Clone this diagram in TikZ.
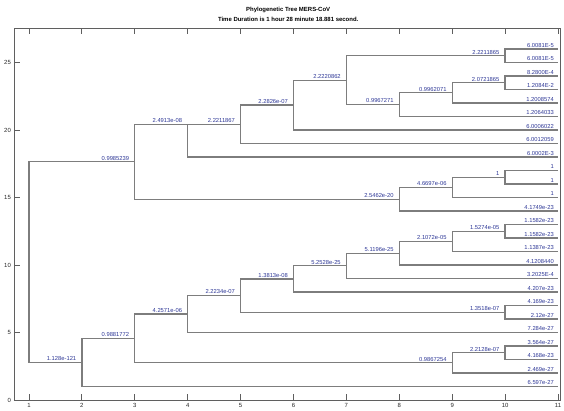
\documentclass[tikz,border=0pt]{standalone}
\usepackage{fontspec}
\setmainfont{Liberation Sans}

\definecolor{branchgray}{RGB}{125,125,125}
\definecolor{axisgray}{RGB}{95,95,95}
\definecolor{labelblue}{RGB}{45,55,150}

\tikzset{
  branch/.style={draw=branchgray, line width=0.7pt},
  blab/.style={font=\fontsize{3.3}{3.8}\selectfont, text=labelblue, anchor=south east, inner sep=0.6pt, xshift=-0.08cm},
  leaflab/.style={font=\fontsize{3.3}{3.8}\selectfont, text=labelblue, anchor=south east, inner sep=0.6pt, xshift=-0.05cm},
  ticklab/.style={font=\fontsize{3.4}{4}\selectfont, text=black!85, inner sep=0.8pt},
  titlelab/.style={font=\bfseries\fontsize{3.4}{4}\selectfont, inner sep=0pt},
}

\begin{document}
\begin{tikzpicture}[x=1.058cm, y=0.27cm]
\useasboundingbox (0.452,-0.741) rectangle (11.114,29.63);

% title
\node[titlelab] (title1) at (5.9,28.89) {Phylogenetic Tree MERS-CoV};
\node[titlelab] (title2) at (5.9,28.22) {Time Duration is 1 hour 28 minute 18.881 second.};

% axes box and ticks
\draw[axisgray, line width=0.5pt] (0.7164,0) rectangle (11.04,27.55);
\foreach \t in {1,...,11} {
  \draw[axisgray, line width=0.5pt] (\t,0) -- ++(0,0.44);
  \draw[axisgray, line width=0.5pt] (\t,27.55) -- ++(0,-0.44);
  \node[ticklab, anchor=north] (xt\t) at (\t,-0.15) {\t};
}
\foreach \t in {0,5,...,25} {
  \draw[axisgray, line width=0.5pt] (0.7164,\t) -- ++(0.113,0);
  \node[ticklab, anchor=east] (yt\t) at (0.69,\t) {\t};
}

% leaf tips
\foreach \i in {1,...,26} {
  \coordinate (l\i) at (11,\i);
}

% internal nodes
\coordinate (root) at (1,10.2139);
\coordinate (A) at (2,2.7793);
\coordinate (B) at (3,4.5586);
\coordinate (W) at (9,2.75);
\coordinate (X) at (10,3.5);
\coordinate (C) at (4,6.3672);
\coordinate (D) at (5,7.7344);
\coordinate (Y) at (10,6.5);
\coordinate (E) at (6,8.9688);
\coordinate (F) at (7,9.9375);
\coordinate (G) at (8,10.875);
\coordinate (H) at (9,11.75);
\coordinate (N) at (10,12.5);
\coordinate (L) at (3,17.6484);
\coordinate (K) at (8,14.875);
\coordinate (J) at (9,15.75);
\coordinate (I) at (10,16.5);
\coordinate (M) at (4,20.4219);
\coordinate (P) at (5,20.4219);
\coordinate (Q) at (6,21.8438);
\coordinate (R) at (7,23.6875);
\coordinate (S) at (10,25.5);
\coordinate (T) at (8,21.875);
\coordinate (U) at (9,22.75);
\coordinate (V) at (10,23.5);

% lower clade
\draw[branch] (root) |- (A) node[blab] (bA) {1.128e-121};
\draw[branch] (A) |- (l1) node[leaflab] (t1) {6.597e-27};
\draw[branch] (A) |- (B) node[blab] (bB) {0.9881772};
\draw[branch] (B) |- (W) node[blab] (bW) {0.9867254};
\draw[branch] (W) |- (l2) node[leaflab] (t2) {2.469e-27};
\draw[branch] (W) |- (X) node[blab] (bX) {2.2128e-07};
\draw[branch] (X) |- (l3) node[leaflab] (t3) {4.168e-23};
\draw[branch] (X) |- (l4) node[leaflab] (t4) {3.564e-27};
\draw[branch] (B) |- (C) node[blab] (bC) {4.2571e-06};
\draw[branch] (C) |- (l5) node[leaflab] (t5) {7.284e-27};
\draw[branch] (C) |- (D) node[blab] (bD) {2.2234e-07};
\draw[branch] (D) |- (Y) node[blab] (bY) {1.3518e-07};
\draw[branch] (Y) |- (l6) node[leaflab] (t6) {2.12e-27};
\draw[branch] (Y) |- (l7) node[leaflab] (t7) {4.169e-23};
\draw[branch] (D) |- (E) node[blab] (bE) {1.3813e-08};
\draw[branch] (E) |- (l8) node[leaflab] (t8) {4.207e-23};
\draw[branch] (E) |- (F) node[blab] (bF) {5.2528e-25};
\draw[branch] (F) |- (l9) node[leaflab] (t9) {3.2025E-4};
\draw[branch] (F) |- (G) node[blab] (bG) {5.1196e-25};
\draw[branch] (G) |- (l10) node[leaflab] (t10) {4.1208440};
\draw[branch] (G) |- (H) node[blab] (bH) {2.1072e-05};
\draw[branch] (H) |- (l11) node[leaflab] (t11) {1.1387e-23};
\draw[branch] (H) |- (N) node[blab] (bN) {1.5274e-05};
\draw[branch] (N) |- (l12) node[leaflab] (t12) {1.1582e-23};
\draw[branch] (N) |- (l13) node[leaflab] (t13) {1.1582e-23};

% upper clade
\draw[branch] (root) |- (L) node[blab] (bL) {0.9985239};
\draw[branch] (L) |- (K) node[blab] (bK) {2.5462e-20};
\draw[branch] (K) |- (l14) node[leaflab] (t14) {4.1749e-23};
\draw[branch] (K) |- (J) node[blab] (bJ) {4.6697e-06};
\draw[branch] (J) |- (l15) node[leaflab] (t15) {1};
\draw[branch] (J) |- (I) node[blab] (bI) {1};
\draw[branch] (I) |- (l16) node[leaflab] (t16) {1};
\draw[branch] (I) |- (l17) node[leaflab] (t17) {1};
\draw[branch] (L) |- (M) node[blab] (bM) {2.4913e-08};
\draw[branch] (M) |- (l18) node[leaflab] (t18) {6.0002E-3};
\draw[branch] (M) |- (P) node[blab] (bP) {2.2211867};
\draw[branch] (P) |- (l19) node[leaflab] (t19) {6.0012059};
\draw[branch] (P) |- (Q) node[blab] (bQ) {2.2826e-07};
\draw[branch] (Q) |- (l20) node[leaflab] (t20) {6.0006022};
\draw[branch] (Q) |- (R) node[blab] (bR) {2.2220862};
\draw[branch] (R) |- (T) node[blab] (bT) {0.9967271};
\draw[branch] (T) |- (l21) node[leaflab] (t21) {1.2064033};
\draw[branch] (T) |- (U) node[blab] (bU) {0.9962071};
\draw[branch] (U) |- (l22) node[leaflab] (t22) {1.2008574};
\draw[branch] (U) |- (V) node[blab] (bV) {2.0721865};
\draw[branch] (V) |- (l23) node[leaflab] (t23) {1.2084E-2};
\draw[branch] (V) |- (l24) node[leaflab] (t24) {8.2800E-4};
\draw[branch] (R) |- (S) node[blab] (bS) {2.2211865};
\draw[branch] (S) |- (l25) node[leaflab] (t25) {6.0081E-5};
\draw[branch] (S) |- (l26) node[leaflab] (t26) {6.0081E-5};
\end{tikzpicture}
\end{document}
